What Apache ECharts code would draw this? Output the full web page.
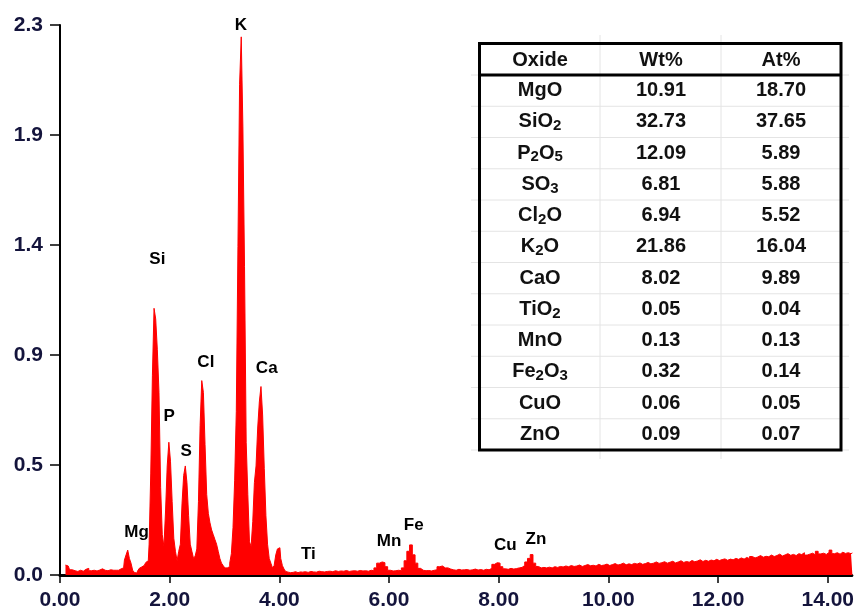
<!DOCTYPE html>
<html>
<head>
<meta charset="utf-8">
<script src="https://cdn.jsdelivr.net/npm/echarts@6/dist/echarts.min.js"></script>
<style>
  html, body { margin: 0; padding: 0; background: #fff; }
  #chart { width: 857px; height: 616px; }
</style>
</head>
<body>
<div id="chart"></div>
<script>
// EDS spectrum, energy in keV, counts
var lowStart = 0.10, lowStep = 0.05;
var lowCounts = [0.042,0.038,0.022,0.018,0.015,0.02,0.016,0.024,0.028,0.018,0.02,0.017,0.021,0.026,0.02,0.018,0.022,0.02];

var peakStart = 1.01, peakStep = 0.03;
var peakCounts = [
  0.02,0.024,0.02,0.026,0.022,0.03,0.063,0.085,0.105,0.07,
  0.05,0.02,0.011,0.008,0.017,0.028,0.034,0.04,0.045,0.053,
  0.06,0.13,0.43,0.84,1.125,1.08,0.95,0.77,0.37,0.17,
  0.12,0.27,0.46,0.56,0.48,0.31,0.155,0.1,0.06,0.1,
  0.13,0.3,0.42,0.46,0.39,0.25,0.13,0.1,0.07,0.08,
  0.11,0.31,0.63,0.82,0.77,0.55,0.34,0.26,0.22,0.19,
  0.17,0.15,0.13,0.1,0.07,0.05,0.04,0.03,0.03,0.035,
  0.05,0.09,0.2,0.4,0.69,1.385,2.07,2.27,1.89,1.3,
  0.56,0.34,0.14,0.12,0.225,0.39,0.46,0.62,0.73,0.795,
  0.675,0.45,0.25,0.13,0.07,0.05,0.03,0.04,0.085,0.11,
  0.115,0.07,0.04,0.025,0.015,0.012,0.01,0.013,0.011,0.014,0.012,0.01,0.013
];

var highStart = 4.40, highStep = 0.05;
var highCounts = [
  0.012,0.014,0.011,0.015,0.013,0.012,0.016,0.014,0.013,0.015,
  0.016,0.014,0.018,0.015,0.017,0.016,0.019,0.015,0.017,0.018,
  0.016,0.019,0.017,0.018,0.016,0.02,0.018,0.03,0.05,0.055,
  0.052,0.035,0.02,0.017,0.018,0.02,0.018,0.03,0.06,0.1,
  0.127,0.085,0.05,0.028,0.02,0.018,0.019,0.017,0.02,0.022,
  0.035,0.038,0.03,0.03,0.025,0.022,0.02,0.024,0.021,0.022,
  0.023,0.02,0.022,0.025,0.021,0.023,0.02,0.024,0.022,0.028,
  0.045,0.052,0.05,0.035,0.026,0.024,0.028,0.025,0.027,0.03,
  0.032,0.04,0.055,0.07,0.086,0.05,0.036,0.03,0.032,0.03,
  0.033,0.03,0.035,0.032,0.036,0.034,0.038,0.035,0.04,0.036,
  0.038,0.042,0.036,0.04,0.044,0.039,0.041,0.038,0.045,0.04,
  0.042,0.046,0.04,0.044,0.048,0.042,0.045,0.05,0.043,0.047,
  0.044,0.049,0.046,0.051,0.045,0.048,0.053,0.047,0.05,0.055,
  0.049,0.052,0.056,0.05,0.054,0.058,0.051,0.055,0.06,0.053,
  0.057,0.054,0.061,0.056,0.059,0.064,0.057,0.062,0.058,0.063,
  0.06,0.066,0.061,0.065,0.068,0.062,0.067,0.064,0.07,0.066,
  0.072,0.067,0.074,0.069,0.078,0.072,0.076,0.082,0.075,0.079,
  0.077,0.084,0.078,0.082,0.088,0.08,0.085,0.09,0.083,0.087,
  0.082,0.09,0.086,0.094,0.084,0.088,0.092,0.085,0.1,0.089,
  0.092,0.087,0.095,0.105,0.09,0.094,0.088,0.096,0.091,0.094,
  0.09,0.093
];

// element labels (energy, height of the text centre)
var elemNames = ['K','Si','P','S','Cl','Ca','Mg','Ti','Mn','Fe','Cu','Zn'];
var elemE = [3.30,1.775,1.99,2.30,2.66,3.77,1.395,4.53,6.0,6.45,8.12,8.68];
var elemY = [2.32,1.333,0.671,0.523,0.899,0.873,0.181,0.089,0.143,0.211,0.127,0.152];

// oxide table
var oxides = ['MgO','SiO{s|2}','P{s|2}O{s|5}','SO{s|3}','Cl{s|2}O','K{s|2}O','CaO','TiO{s|2}','MnO','Fe{s|2}O{s|3}','CuO','ZnO'];
var wtPct = ['10.91','32.73','12.09','6.81','6.94','21.86','8.02','0.05','0.13','0.32','0.06','0.09'];
var atPct = ['18.70','37.65','5.89','5.88','5.52','16.04','9.89','0.04','0.13','0.14','0.05','0.07'];

var yMax = 2.32, yStep = 0.464;

function seg(start, step, arr) {
  return arr.map(function (v, i) { return [+(start + i * step).toFixed(3), v]; });
}
var spectrum = seg(lowStart, lowStep, lowCounts)
  .concat(seg(peakStart, peakStep, peakCounts))
  .concat(seg(highStart, highStep, highCounts));

var labelData = elemNames.map(function (n, i) { return [elemE[i], elemY[i], n]; });

var FONT = '"Liberation Sans", Arial, sans-serif';
var axisText = '#14143c';

// table layout
var tL = 479.5, tR = 841, tT = 43.5, tH = 75, rowH = 31.25;
var colX = [540, 661, 781];
var gfx = [];
var grey = '#e4e4e4';
for (var r = 0; r <= 12; r++) {
  gfx.push({ type: 'line', shape: { x1: 471, y1: tH + r * rowH, x2: 849, y2: tH + r * rowH }, style: { stroke: grey, lineWidth: 1 } });
}
[600, 721].forEach(function (x) {
  gfx.push({ type: 'line', shape: { x1: x, y1: 35, x2: x, y2: 459 }, style: { stroke: grey, lineWidth: 1 } });
});
gfx.push({ type: 'rect', shape: { x: tL, y: tT, width: tR - tL, height: 450 - tT }, style: { fill: 'none', stroke: '#000', lineWidth: 3 } });
gfx.push({ type: 'line', shape: { x1: tL, y1: tH, x2: tR, y2: tH }, style: { stroke: '#000', lineWidth: 3 } });

function cell(txt, x, y) {
  return {
    type: 'text',
    style: {
      text: txt, x: x, y: y,
      font: 'bold 20px ' + FONT, fill: '#111',
      align: 'center', verticalAlign: 'middle',
      textAlign: 'center', textVerticalAlign: 'middle',
      rich: { s: { fontSize: 15, fontWeight: 'bold', fontFamily: FONT, fill: '#111', padding: [8, 0, 0, 0] } }
    }
  };
}
var head = ['Oxide', 'Wt%', 'At%'];
head.forEach(function (h, c) { gfx.push(cell(h, colX[c], (tT + tH) / 2 + 1)); });
oxides.forEach(function (o, i) {
  var cy = tH + rowH * (i + 0.5);
  gfx.push(cell(o, colX[0], cy));
  gfx.push(cell(wtPct[i], colX[1], cy));
  gfx.push(cell(atPct[i], colX[2], cy));
});

var chart = echarts.init(document.getElementById('chart'));
chart.setOption({
  animation: false,
  backgroundColor: '#fff',
  grid: { left: 60, right: 0, top: 25, bottom: 41 },
  xAxis: {
    type: 'value', min: 0, max: 14.44, interval: 2,
    axisLine: { show: true, lineStyle: { color: '#000', width: 3 } },
    axisTick: { show: true, length: 8, lineStyle: { color: '#000', width: 1.5 } },
    axisLabel: { showMaxLabel: false, margin: 15, fontSize: 21, fontWeight: 'bold', fontFamily: FONT, color: axisText,
      formatter: function (v) { return v.toFixed(2); } },
    splitLine: { show: false }
  },
  yAxis: {
    type: 'value', min: 0, max: yMax, interval: yStep, offset: 3,
    axisLine: { show: true, lineStyle: { color: '#000', width: 2 } },
    axisTick: { show: true, length: 10, lineStyle: { color: '#000', width: 1.5 } },
    axisLabel: { margin: 14, fontSize: 21, fontWeight: 'bold', fontFamily: FONT, color: axisText,
      formatter: function (v) { return v.toFixed(1); } },
    splitLine: { show: false }
  },
  series: [
    {
      type: 'line', data: spectrum, step: 'middle', symbol: 'none',
      lineStyle: { color: '#ff0000', width: 1 },
      areaStyle: { color: '#ff0000', opacity: 1 },
      silent: true
    },
    {
      type: 'scatter', data: labelData, symbolSize: 0, clip: false, silent: true,
      itemStyle: { opacity: 1 },
      label: { show: true, position: 'inside', fontSize: 17, fontWeight: 'bold', fontFamily: FONT, color: '#000',
        formatter: function (p) { return p.data[2]; } }
    }
  ],
  graphic: { elements: gfx }
});
</script>
</body>
</html>
